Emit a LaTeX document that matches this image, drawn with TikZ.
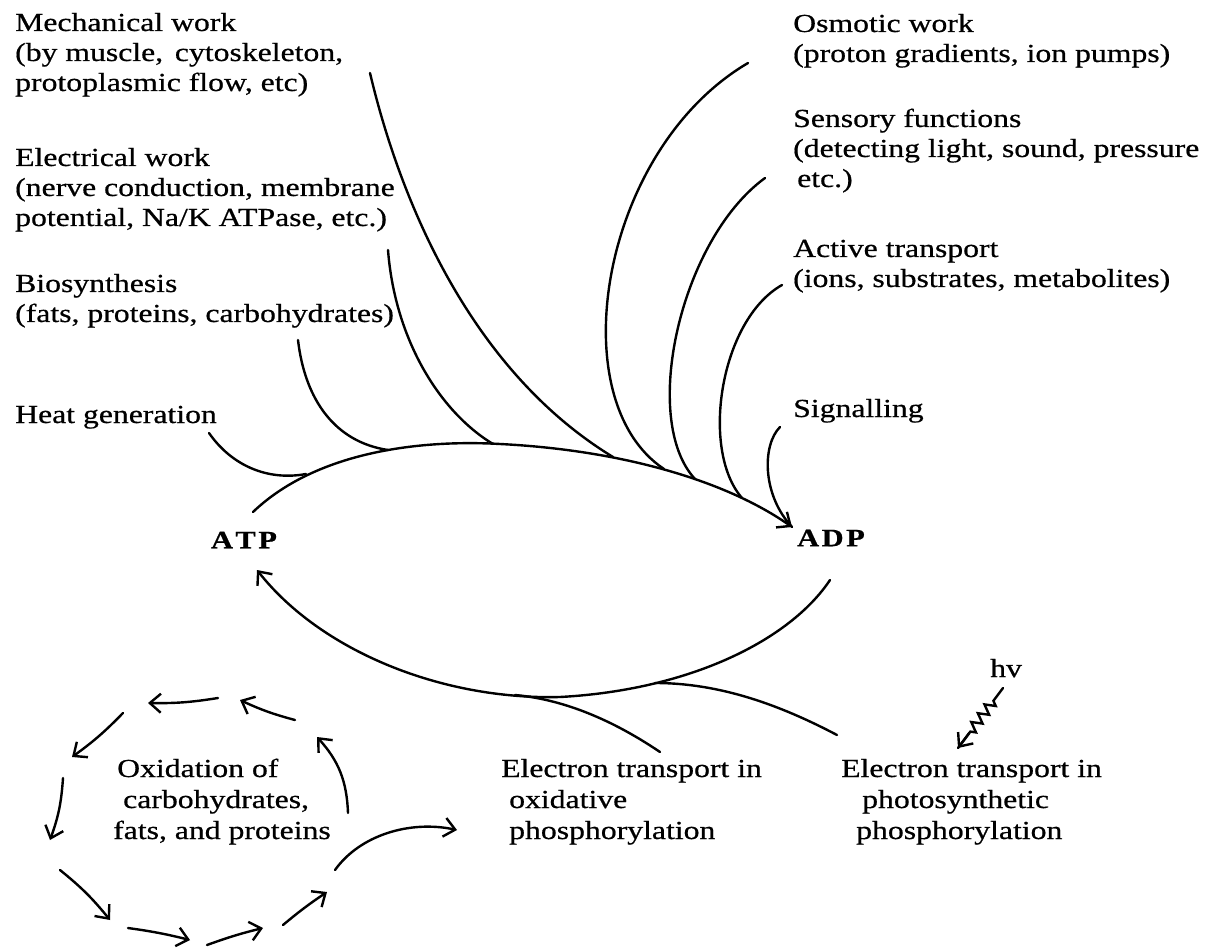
\documentclass[tikz,border=0pt]{standalone}
\usepackage{fontspec}
\setmainfont{Liberation Serif}[FakeStretch=1.22,FakeBold=0.6]
\usetikzlibrary{arrows.meta,decorations.pathmorphing,calc}
\begin{document}
\begin{tikzpicture}[x=1pt,y=1pt,yscale=-1,
  lbl/.style={anchor=base west, inner sep=0pt, font=\fontsize{26}{30}\selectfont},
  molec/.style={inner sep=0pt, font=\fontsize{25}{28}\selectfont\bfseries},
  curve/.style={line width=2.4pt, line cap=round},
  tip/.style={-{Straight Barb[length=11pt,width=19pt]}}]
\fill[white] (0,0) rectangle (1209,949);
\useasboundingbox (0,0) rectangle (1209,949);

% left labels
\node[lbl] (m1) at (15,31) {Mechanical work};
\node[lbl] (m2) at (15,61) {(by muscle,\hspace{0.45em}cytoskeleton,};
\node[lbl] (m3) at (15,91) {protoplasmic flow, etc)};
\node[lbl] (e1) at (15,166) {Electrical work};
\node[lbl] (e2) at (15,196) {(nerve conduction, membrane};
\node[lbl] (e3) at (15,226) {potential, Na/K ATPase, etc.)};
\node[lbl] (b1) at (15,292) {Biosynthesis};
\node[lbl] (b2) at (15,322) {(fats, proteins, carbohydrates)};
\node[lbl] (h1) at (15,423) {Heat generation};

% right labels
\node[lbl] (o1) at (793,32) {Osmotic work};
\node[lbl] (o2) at (793,62) {(proton gradients, ion pumps)};
\node[lbl] (s1) at (793,127) {Sensory functions};
\node[lbl] (s2) at (793,157) {(detecting light, sound, pressure};
\node[lbl] (s3) at (797,187) {etc.)};
\node[lbl] (a1) at (793,257) {Active transport};
\node[lbl] (a2) at (793,287) {(ions, substrates, metabolites)};
\node[lbl] (g1) at (793,417) {Signalling};

% bottom labels
\node[lbl] (x1) at (117,777) {Oxidation of};
\node[lbl] (x2) at (123,808) {carbohydrates,};
\node[lbl] (x3) at (113,839) {fats, and proteins};
\node[lbl] (t1) at (501,777) {Electron transport in};
\node[lbl] (t2) at (509,808) {oxidative};
\node[lbl] (t3) at (509,839) {phosphorylation};
\node[lbl] (p1) at (841,777) {Electron transport in};
\node[lbl] (p2) at (862,808) {photosynthetic};
\node[lbl] (p3) at (856,839) {phosphorylation};
\node[lbl] (hv) at (990,677) {hv};

% ATP / ADP
\node[molec] (atp) at (244,540) {A\kern2.5pt T\kern2.5pt P};
\node[molec] (adp) at (831,538) {A\kern2.5pt D\kern2.5pt P};

% connector points
\coordinate (arcS) at (253,512);
\coordinate (arcM) at (500,444);
\coordinate (arcE) at (792,527);
\coordinate (lowS) at (830,580);
\coordinate (lowM) at (560,697);
\coordinate (lowE) at (257,570);
\coordinate (heatS) at (209,433);  \coordinate (heatJ) at (306,474);
\coordinate (bioS) at (298,340);   \coordinate (bioJ) at (388,450);
\coordinate (eleS) at (388,250);   \coordinate (eleJ) at (493,444);
\coordinate (mecS) at (370,73);    \coordinate (mecJ) at (613,457);
\coordinate (osmS) at (748,63);    \coordinate (osmJ) at (664,469);
\coordinate (senS) at (765,178);   \coordinate (senJ) at (695,479);
\coordinate (actS) at (782,285);   \coordinate (actJ) at (742,498);
\coordinate (sigS) at (780,427);
\coordinate (oxE) at (660,752);    \coordinate (oxJ) at (515,695);
\coordinate (phE) at (837,735);    \coordinate (phJ) at (655,683);
\coordinate (hvS) at (1003,688);   \coordinate (hvE) at (958,748);

% ATP -> ADP
\draw[curve,tip] (arcS) .. controls (320,448) and (430,440) .. (arcM)
                       .. controls (620,450) and (725,480) .. (arcE);
% ADP -> ATP
\draw[curve,tip] (lowS) .. controls (790,640) and (690,690) .. (lowM)
                       .. controls (440,700) and (320,650) .. (lowE);

% branches into upper arc
\draw[curve] (heatS) .. controls (232,466) and (268,481) .. (heatJ);
\draw[curve] (bioS) .. controls (305,400) and (335,442) .. (bioJ);
\draw[curve] (eleS) .. controls (395,340) and (440,412) .. (eleJ);
\draw[curve] (mecS) .. controls (400,200) and (470,370) .. (mecJ);
\draw[curve] (osmS) .. controls (600,150) and (560,400) .. (osmJ);
\draw[curve] (senS) .. controls (680,240) and (640,420) .. (senJ);
\draw[curve] (actS) .. controls (720,320) and (700,450) .. (actJ);
\draw[curve] (sigS) .. controls (762,445) and (762,495) .. (arcE);

% branches from lower arc
\draw[curve] (oxE) .. controls (620,725) and (570,700) .. (oxJ);
\draw[curve] (phE) .. controls (780,705) and (720,683) .. (phJ);

% light squiggle
\coordinate (hvA) at ($(hvS)!0.75!(hvE)$);
\draw[curve, line join=miter, decorate, decoration={zigzag, segment length=11pt, amplitude=5pt, pre length=16pt, post length=20pt}] (hvS) -- (hvE);
\draw[curve,tip] (hvA) -- (hvE);

% oxidation cycle
\coordinate (c1a) at (218,698); \coordinate (c1b) at (148,703);
\coordinate (c2a) at (295,720); \coordinate (c2b) at (240,700);
\coordinate (c3a) at (123,713); \coordinate (c3b) at (72,757);
\coordinate (c4a) at (63,778);  \coordinate (c4b) at (50,840);
\coordinate (c5a) at (60,870);  \coordinate (c5b) at (110,920);
\coordinate (c6a) at (128,928); \coordinate (c6b) at (190,940);
\coordinate (c7a) at (207,945); \coordinate (c7b) at (263,928);
\coordinate (c8a) at (283,925); \coordinate (c8b) at (327,892);
\coordinate (c9a) at (348,813); \coordinate (c9b) at (317,737);
\coordinate (c10a) at (335,870); \coordinate (c10b) at (457,830);
\draw[curve,tip] (c1a) to[bend right=5] (c1b);
\draw[curve,tip] (c2a) to[bend right=5] (c2b);
\draw[curve,tip] (c3a) to[bend right=5] (c3b);
\draw[curve,tip] (c4a) to[bend right=8] (c4b);
\draw[curve,tip] (c5a) to[bend right=6] (c5b);
\draw[curve,tip] (c6a) to[bend right=3] (c6b);
\draw[curve,tip] (c7a) to[bend right=3] (c7b);
\draw[curve,tip] (c8a) to[bend right=3] (c8b);
\draw[curve,tip] (c9a) to[bend left=20] (c9b);
\draw[curve,tip] (c10a) .. controls (360,835) and (410,820) .. (c10b);
\end{tikzpicture}
\end{document}
